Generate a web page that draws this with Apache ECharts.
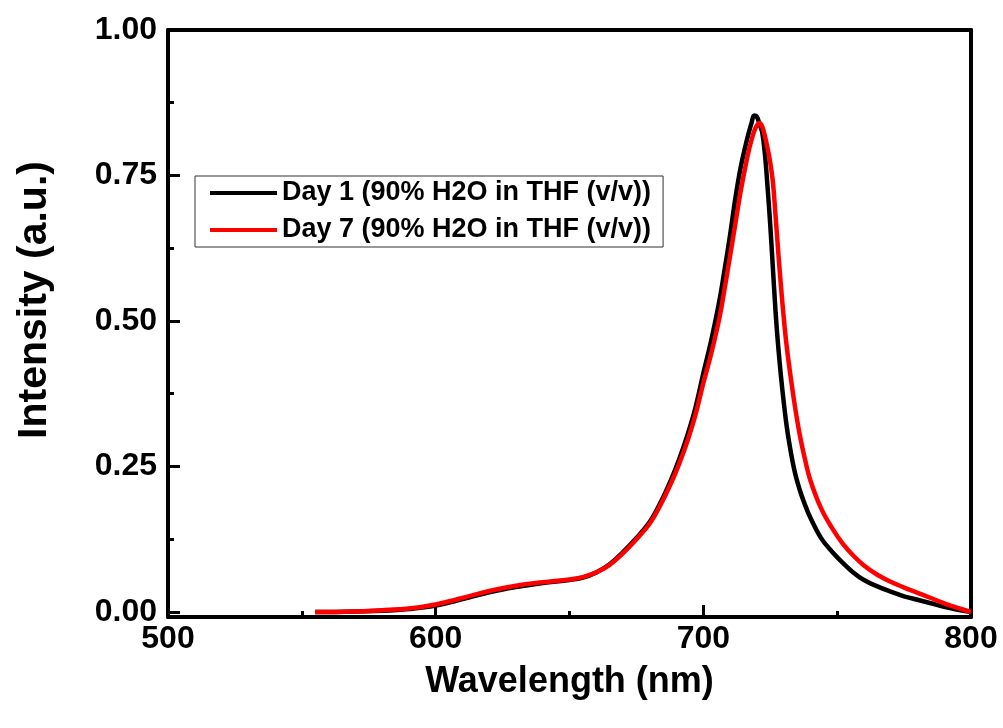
<!DOCTYPE html>
<html>
<head>
<meta charset="utf-8">
<script src="https://cdn.jsdelivr.net/npm/echarts@6/dist/echarts.min.js"></script>
<style>
html,body{margin:0;padding:0;background:#fff;}
#chart{width:1003px;height:728px;}
</style>
</head>
<body>
<div id="chart"></div>
<script>
// ---- data ----
var wavelength = [555,560,570,580,590,600,610,620,630,640,650,655,660,665,670,675,680,684,688,691,694,697,700,703,706,708,710,712,714,716,717,718,719,720,721,722,723,724,725,726,727,728,729,730,731,732,734,736,738,740,744,748,752,756,760,765,770,775,780,785,790,795,800];
var day1 = [0,0,0.001,0.002,0.005,0.011,0.022,0.034,0.043,0.050,0.055,0.059,0.068,0.082,0.103,0.127,0.155,0.188,0.228,0.263,0.303,0.350,0.410,0.468,0.535,0.590,0.648,0.712,0.765,0.806,0.824,0.840,0.853,0.851,0.838,0.824,0.787,0.730,0.665,0.590,0.515,0.455,0.405,0.362,0.324,0.293,0.244,0.210,0.184,0.162,0.127,0.104,0.085,0.068,0.055,0.044,0.035,0.027,0.021,0.015,0.009,0.004,0];
var day7 = [0,0,0.001,0.003,0.006,0.013,0.024,0.036,0.045,0.051,0.056,0.060,0.068,0.081,0.101,0.125,0.152,0.184,0.222,0.255,0.293,0.338,0.393,0.445,0.505,0.557,0.612,0.668,0.724,0.772,0.793,0.811,0.826,0.836,0.840,0.834,0.818,0.797,0.772,0.738,0.680,0.618,0.560,0.508,0.462,0.425,0.360,0.305,0.262,0.226,0.178,0.145,0.118,0.097,0.080,0.064,0.052,0.042,0.033,0.024,0.015,0.007,0];
var seriesNames = ['Day 1 (90% H2O in THF (v/v))', 'Day 7 (90% H2O in THF (v/v))'];
var seriesColors = ['#000000', '#ff0000'];
var xTicks = [500, 600, 700, 800];
var yTicks = [0, 0.25, 0.5, 0.75, 1.0];
var yMinorTicks = [0.125, 0.375, 0.625, 0.875];
var xTitle = 'Wavelength (nm)';
var yTitle = 'Intensity (a.u.)';

function pairs(xs, ys){ return xs.map(function(x,i){ return [x, ys[i]]; }); }

var FONT = 'Liberation Sans, Arial, sans-serif';
var chart = echarts.init(document.getElementById('chart'), null, {renderer:'canvas'});
var axisLineStyle = {color:'#000', width:4};
var yMin = -0.0086, yMax = 1.0;

chart.setOption({
  backgroundColor:'#fff',
  animation:false,
  grid:{left:168, right:32, top:30, bottom:111, outerBoundsMode:'none', containLabel:false},
  legend:{
    orient:'vertical', left:195, top:176,
    icon:'rect', itemWidth:67, itemHeight:4, itemGap:7,
    padding:[2,12,2,15],
    borderColor:'#333', borderWidth:1, backgroundColor:'#fff',
    textStyle:{fontFamily:FONT, fontWeight:'bold', fontSize:27, color:'#000', lineHeight:30},
    data:seriesNames
  },
  xAxis:[
    {type:'value', position:'bottom', min:xTicks[0], max:xTicks[xTicks.length-1], interval:100,
     axisLine:{show:true, onZero:false, lineStyle:axisLineStyle},
     axisTick:{show:true, inside:true, length:12, lineStyle:{color:'#000', width:3}},
     minorTick:{show:true, splitNumber:2, length:6, lineStyle:{color:'#000', width:3}},
     axisLabel:{show:true, margin:6, color:'#000', fontFamily:FONT, fontWeight:'bold', fontSize:32},
     splitLine:{show:false}, minorSplitLine:{show:false},
     name:xTitle, nameLocation:'middle', nameGap:47,
     nameTextStyle:{fontFamily:FONT, fontWeight:'bold', fontSize:36, color:'#000'}},
    {type:'value', position:'top', min:xTicks[0], max:xTicks[xTicks.length-1],
     axisLine:{show:true, onZero:false, lineStyle:axisLineStyle},
     axisTick:{show:false}, axisLabel:{show:false}, splitLine:{show:false}}
  ],
  yAxis:[
    {type:'value', position:'left', min:yMin, max:yMax,
     axisLine:{show:true, onZero:false, lineStyle:axisLineStyle},
     axisTick:{show:true, inside:true, length:12, customValues:yTicks, lineStyle:{color:'#000', width:3}},
     axisLabel:{show:true, margin:11, customValues:yTicks, color:'#000', fontFamily:FONT, fontWeight:'bold', fontSize:32,
       formatter:function(v){ return Number(v).toFixed(2); }},
     splitLine:{show:false}},
    {type:'value', position:'left', min:yMin, max:yMax,
     axisLine:{show:false, onZero:false},
     axisTick:{show:true, inside:true, length:6, customValues:yMinorTicks, lineStyle:{color:'#000', width:3}},
     axisLabel:{show:false}, splitLine:{show:false}},
    {type:'value', position:'right', min:yMin, max:yMax,
     axisLine:{show:true, onZero:false, lineStyle:axisLineStyle},
     axisTick:{show:false}, axisLabel:{show:false}, splitLine:{show:false}}
  ],
  graphic:[
    {type:'text', x:35, y:300, rotation:Math.PI/2,
     style:{text:yTitle, align:'center', verticalAlign:'middle', fontFamily:FONT, fontWeight:'bold', fontSize:41, fill:'#000'}}
  ],
  series:[
    {name:seriesNames[0], type:'line', xAxisIndex:0, yAxisIndex:0, data:pairs(wavelength, day1),
     showSymbol:false, smooth:0.4, lineStyle:{color:seriesColors[0], width:4.5}, itemStyle:{color:seriesColors[0]}, z:3},
    {name:seriesNames[1], type:'line', xAxisIndex:0, yAxisIndex:0, data:pairs(wavelength, day7),
     showSymbol:false, smooth:0.4, lineStyle:{color:seriesColors[1], width:4.5}, itemStyle:{color:seriesColors[1]}, z:4}
  ]
});
</script>
</body>
</html>
